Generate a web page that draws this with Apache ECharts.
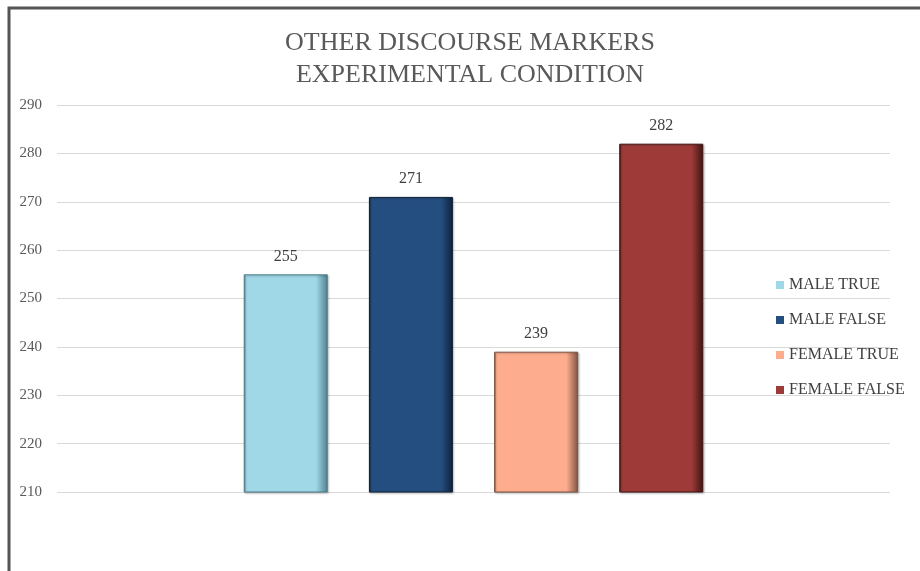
<!DOCTYPE html>
<html>
<head>
<meta charset="utf-8">
<script src="https://cdn.jsdelivr.net/npm/echarts@6/dist/echarts.min.js"></script>
<style>
  html, body { margin: 0; padding: 0; background: #ffffff; }
  #chart { width: 920px; height: 571px; }
</style>
</head>
<body>
<div id="chart"></div>
<script>
// Series names (one bar per condition)
const seriesNames = ['MALE TRUE', 'MALE FALSE', 'FEMALE TRUE', 'FEMALE FALSE'];
// Counts for each condition
const seriesValues = [255, 271, 239, 282];
// Value axis range
const yMin = 210;
const yMax = 290;
const yStep = 10;
// Fill colours: [edge light, base, edge dark]
const seriesColors = [
  ['#c4ecf5', '#a0d8e8', '#4f7f8c'],
  ['#3a679c', '#254e80', '#0f2138'],
  ['#ffcdb8', '#fdad8e', '#7f5444'],
  ['#bf5a55', '#9e3b38', '#3e1412']
];

function bevel(c) {
  return {
    type: 'linear', x: 0, y: 0, x2: 1, y2: 0,
    colorStops: [
      { offset: 0, color: c[2] },
      { offset: 0.03, color: c[1] },
      { offset: 0.86, color: c[1] },
      { offset: 1, color: c[2] }
    ]
  };
}

const chart = echarts.init(document.getElementById('chart'), null, { renderer: 'canvas' });

const series = seriesNames.map((name, i) => ({
  name: name,
  type: 'bar',
  data: [seriesValues[i]],
  barWidth: 84,
  barGap: '49%',
  itemStyle: {
    color: bevel(seriesColors[i]),
    borderColor: seriesColors[i][2],
    borderWidth: 1,
    shadowColor: 'rgba(0,0,0,0.25)',
    shadowBlur: 2,
    shadowOffsetX: 1,
    shadowOffsetY: 1
  },
  label: {
    show: true,
    position: 'top',
    distance: 10,
    fontFamily: 'Liberation Serif',
    fontSize: 16,
    color: '#404040'
  }
}));

chart.setOption({
  animation: false,
  backgroundColor: '#ffffff',
  title: {
    text: 'OTHER DISCOURSE MARKERS\nEXPERIMENTAL CONDITION',
    left: 465,
    textAlign: 'center',
    top: 22,
    textStyle: {
      fontFamily: 'Liberation Serif',
      fontWeight: 'normal',
      fontSize: 26,
      lineHeight: 32,
      color: '#595959'
    }
  },
  legend: {
    orient: 'vertical',
    left: 771,
    top: 272,
    icon: 'rect',
    itemWidth: 8,
    itemHeight: 8,
    itemGap: 19,
    textStyle: {
      fontFamily: 'Liberation Serif',
      fontSize: 16,
      color: '#404040'
    },
    data: seriesNames.map((n, i) => ({
      name: n,
      itemStyle: { color: seriesColors[i][1], borderWidth: 0, shadowBlur: 0, shadowOffsetX: 0, shadowOffsetY: 0 }
    }))
  },
  grid: {
    left: 57,
    right: 30,
    top: 105,
    bottom: 79,
    containLabel: false
  },
  xAxis: {
    type: 'category',
    data: [''],
    axisLine: { show: false },
    axisTick: { show: false },
    axisLabel: { show: false }
  },
  yAxis: {
    type: 'value',
    min: yMin,
    max: yMax,
    interval: yStep,
    axisLine: { show: false },
    axisTick: { show: false },
    axisLabel: {
      margin: 15,
      fontFamily: 'Liberation Serif',
      fontSize: 15,
      color: '#595959'
    },
    splitLine: { lineStyle: { color: '#d9d9d9', width: 1 } }
  },
  graphic: [{
    type: 'rect',
    shape: { x: 9, y: 8, width: 1000, height: 1000 },
    style: { fill: null, stroke: '#555555', lineWidth: 3 },
    silent: true
  }],
  series: series
});
</script>
</body>
</html>
